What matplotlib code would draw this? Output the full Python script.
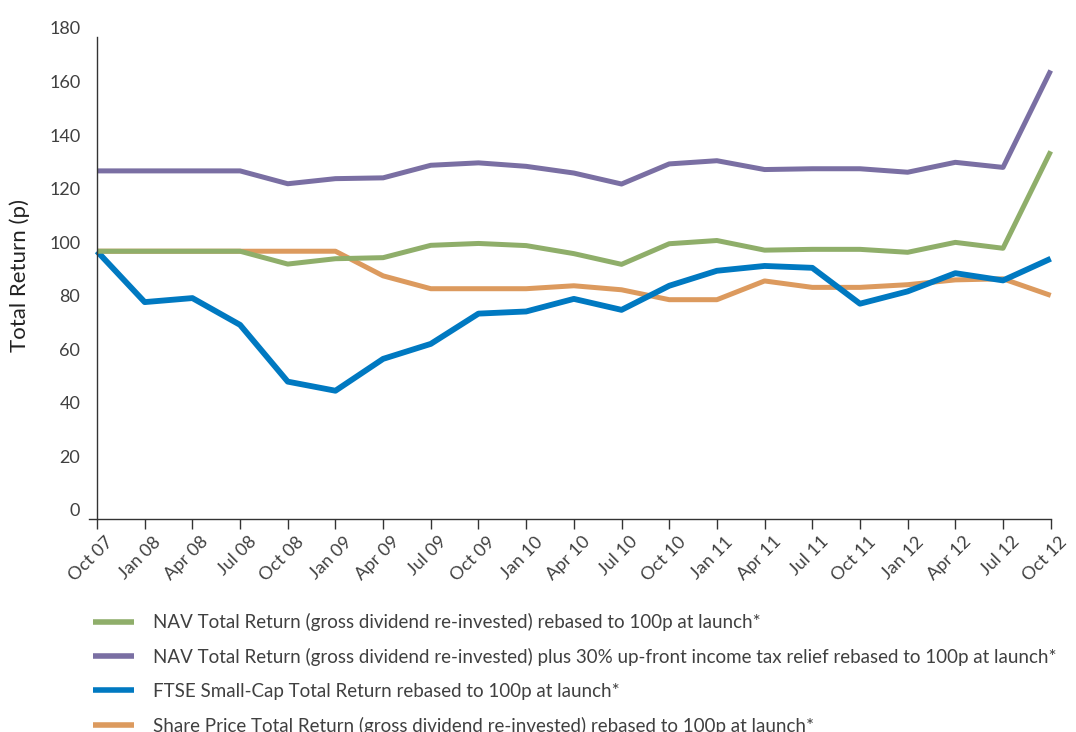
import matplotlib
matplotlib.use("Agg")
import matplotlib.pyplot as plt
import matplotlib.transforms as mtransforms

# --- DATOS ---
periods = ["Oct 07", "Jan 08", "Apr 08", "Jul 08", "Oct 08", "Jan 09", "Apr 09",
           "Jul 09", "Oct 09", "Jan 10", "Apr 10", "Jul 10", "Oct 10", "Jan 11",
           "Apr 11", "Jul 11", "Oct 11", "Jan 12", "Apr 12", "Jul 12", "Oct 12"]

nav_tr = [100, 100, 100, 100, 95.2, 97.2, 97.6, 102.2, 102.9, 102.1, 99.1, 95.1,
          102.8, 104.0, 100.4, 100.7, 100.7, 99.6, 103.3, 101.1, 137.3]
nav_tax = [130, 130, 130, 130, 125.2, 127.1, 127.4, 132.1, 133.0, 131.7, 129.2, 125.1,
           132.6, 133.8, 130.5, 130.8, 130.8, 129.5, 133.2, 131.3, 167.5]
ftse = [100, 81.0, 82.5, 72.5, 51.3, 47.9, 59.8, 65.4, 76.7, 77.5, 82.2, 78.1,
        87.1, 92.7, 94.5, 93.8, 80.4, 85.0, 91.8, 89.1, 97.2]
share_price = [100, 100, 100, 100, 100, 100, 90.8, 86.0, 86.0, 86.0, 87.1, 85.6,
               81.9, 81.9, 88.9, 86.5, 86.5, 87.5, 89.3, 89.7, 83.5]

labels = [
    "NAV Total Return (gross dividend re-invested) rebased to 100p at launch*",
    "NAV Total Return (gross dividend re-invested) plus 30% up-front income tax relief rebased to 100p at launch*",
    "FTSE Small-Cap Total Return rebased to 100p at launch*",
    "Share Price Total Return (gross dividend re-invested) rebased to 100p at launch*",
]

GREEN = "#8fae6a"
PURPLE = "#7a6fa3"
BLUE = "#0079c1"
ORANGE = "#dc9a5e"
TEXT = "#404040"

plt.rcParams["font.family"] = ["Lato", "DejaVu Sans"]

fig = plt.figure(figsize=(10.76, 7.32), dpi=100)
ax = fig.add_axes([89 / 1076, 1 - 519 / 732, (1050.7 - 89) / 1076, (519 - 37) / 732])

x = list(range(len(periods)))
l_orange, = ax.plot(x, share_price, color=ORANGE, lw=3.6, clip_on=False, solid_capstyle="butt")
l_blue, = ax.plot(x, ftse, color=BLUE, lw=4.2, clip_on=False, solid_capstyle="butt")
l_green, = ax.plot(x, nav_tr, color=GREEN, lw=3.6, clip_on=False, solid_capstyle="butt")
l_purple, = ax.plot(x, nav_tax, color=PURPLE, lw=3.6, clip_on=False, solid_capstyle="butt")

ax.set_xlim(-8 / 47.65, 20)
ax.set_ylim(0, 180)
ax.set_yticks(range(0, 181, 20))
ax.set_xticks(x)
ax.set_xticklabels(periods)

for side in ["top", "right"]:
    ax.spines[side].set_visible(False)
ax.spines["left"].set_position(("data", 0))
for side in ["left", "bottom"]:
    ax.spines[side].set_color("#333333")
    ax.spines[side].set_linewidth(1.0)

ax.tick_params(axis="y", length=0, pad=12, labelsize=13, labelcolor=TEXT)
ax.tick_params(axis="x", direction="out", length=7.5, width=1.0, color="#333333",
               pad=3, labelsize=13, labelcolor=TEXT)

# etiquetas del eje Y algo desplazadas hacia arriba, como en el original
up = mtransforms.ScaledTranslation(0, 0.09, fig.dpi_scale_trans)
for lbl in ax.get_yticklabels():
    lbl.set_transform(lbl.get_transform() + up)

right = mtransforms.ScaledTranslation(0.08, 0, fig.dpi_scale_trans)
for lbl in ax.get_xticklabels():
    lbl.set_rotation(45)
    lbl.set_ha("right")
    lbl.set_va("top")
    lbl.set_rotation_mode("anchor")
    lbl.set_transform(lbl.get_transform() + right)

fig.text(20 / 1076, 1 - 276 / 732, "Total Return (p)", rotation=90, ha="center", va="center",
         fontsize=16, color="#222222")

leg = fig.legend([l_green, l_purple, l_blue, l_orange], labels,
                 loc="upper left", bbox_to_anchor=(93 / 1076, 1 - 613 / 732),
                 frameon=False, fontsize=13.5, handlelength=2.2, handletextpad=1.0,
                 labelspacing=0.9, borderpad=0, borderaxespad=0)
for t in leg.get_texts():
    t.set_color(TEXT)
for h in leg.legend_handles:
    h.set_linewidth(4)

fig.savefig("out.png", dpi=100)
